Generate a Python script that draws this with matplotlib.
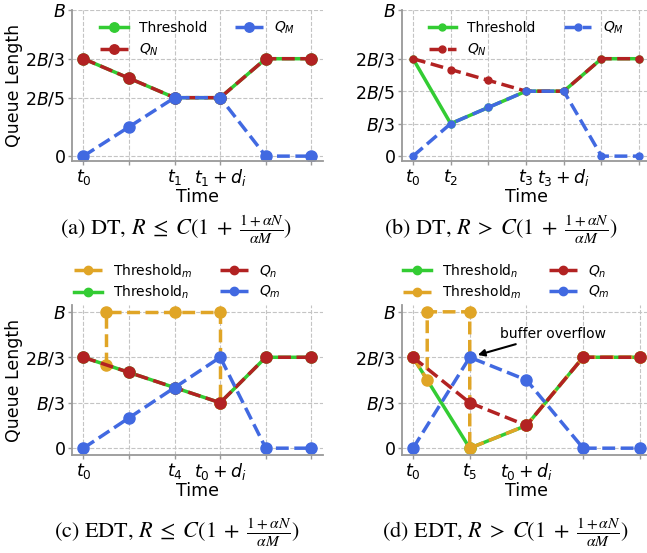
import matplotlib
matplotlib.use('Agg')
import matplotlib.pyplot as plt

# colours
GREEN = '#33cc33'
RED = '#b22222'
BLUE = '#4169e1'
ORANGE = '#e0a526'

plt.rcParams['font.family'] = 'DejaVu Sans'
plt.rcParams['mathtext.fontset'] = 'dejavusans'

# ---- panel (a): DT, R <= C(...)
a_x = [0, 1, 2, 3, 4, 5]
a_thr = [3, 2.4, 1.8, 1.8, 3, 3]
a_qn = [3, 2.4, 1.8, 1.8, 3, 3]
a_qm = [0, 0.9, 1.8, 1.8, 0, 0]
a_yticks = [0, 1.8, 3, 4.5]
a_ylabels = ['$0$', '$2B/5$', '$2B/3$', '$B$']
a_xlabels = ['$t_0$', '', '$t_1$', '$t_1+d_i$', '', '']

# ---- panel (b): DT, R > C(...)
b_x = [0, 1, 2, 3, 4, 5, 6]
b_thr = [3, 1, 1.5, 2, 2, 3, 3]
b_qn = [3, 2.667, 2.333, 2, 2, 3, 3]
b_qm = [0, 1, 1.5, 2, 2, 0, 0]
b_yticks = [0, 1, 2, 3, 4.5]
b_ylabels = ['$0$', '$B/3$', '$2B/5$', '$2B/3$', '$B$']
b_xlabels = ['$t_0$', '$t_2$', '', '$t_3$', '$t_3+d_i$', '', '']

# ---- panel (c): EDT, R <= C(...)
c_x = [0, 1, 2, 3, 4, 5]
c_thr_n = [2, 1.667, 1.333, 1, 2, 2]
c_qn = [2, 1.667, 1.333, 1, 2, 2]
c_qm = [0, 0.667, 1.333, 2, 0, 0]
c_thr_m_x = [0.5, 0.5, 2, 3, 3]
c_thr_m = [1.833, 3, 3, 3, 1]
c_yticks = [0, 1, 2, 3]
c_ylabels = ['$0$', '$B/3$', '$2B/3$', '$B$']
c_xlabels = ['$t_0$', '', '$t_4$', '$t_0+d_i$', '', '']

# ---- panel (d): EDT, R > C(...)
d_x = [0, 1, 2, 3, 4]
d_thr_n = [2, 0, 0.5, 2, 2]
d_qn = [2, 1, 0.5, 2, 2]
d_qm = [0, 2, 1.5, 0, 0]
d_thr_m_x = [0, 0.25, 0.25, 1, 1, 2, 3, 4]
d_thr_m = [2, 1.5, 3, 3, 0, 0.5, 2, 2]
d_yticks = [0, 1, 2, 3]
d_ylabels = ['$0$', '$B/3$', '$2B/3$', '$B$']
d_xlabels = ['$t_0$', '$t_5$', '$t_0+d_i$', '', '']

frac = r'\frac{1+\alpha N}{\alpha M}'
captions = [
    r'(a) DT, $R\;\leq\;C(1\;+\;' + frac + ')$',
    r'(b) DT, $R\;>\;C(1\;+\;' + frac + ')$',
    r'(c) EDT, $R\;\leq\;C(1\;+\;' + frac + ')$',
    r'(d) EDT, $R\;>\;C(1\;+\;' + frac + ')$',
]

W, H = 647, 553
fig = plt.figure(figsize=(W / 100, H / 100), dpi=100)


def make_ax(left, top, width, height):
    return fig.add_axes([left / W, 1 - (top + height) / H, width / W, height / H])


def style(ax, xs, xlabels, yticks, ylabels, ylabel=True):
    ax.set_xticks(xs)
    ax.set_xticklabels(xlabels, fontsize=12.5)
    ax.set_yticks(yticks)
    ax.set_yticklabels(ylabels, fontsize=12.5)
    ax.set_xlabel('Time', fontsize=12.5, labelpad=0)
    if ylabel:
        ax.set_ylabel('Queue Length', fontsize=12.5, labelpad=2)
    ax.grid(True, linestyle='--', color='#c4c4c4', linewidth=0.8)
    ax.set_axisbelow(True)
    for s in ['top', 'right']:
        ax.spines[s].set_visible(False)
    for s in ['left', 'bottom']:
        ax.spines[s].set_color('#999999')
        ax.spines[s].set_linewidth(1.3)
    ax.tick_params(colors='#999999', labelcolor='black', length=3, width=1)
    ax.tick_params(axis='x', pad=1)
    ax.tick_params(axis='y', pad=1.5)


lw = 2.5

# (a)
ax = make_ax(72, 10, 250.8, 151)
ax.plot(a_x, a_thr, '-', color=GREEN, lw=lw, marker='o', ms=8, label='Threshold')
ax.plot(a_x, a_qn, '--', color=RED, lw=lw, marker='o', ms=8, label='$Q_N$')
ax.plot(a_x, a_qm, '--', color=BLUE, lw=lw, marker='o', ms=8, label='$Q_M$')
style(ax, a_x, a_xlabels, a_yticks, a_ylabels)
ax.legend(ncol=2, loc='center', bbox_to_anchor=(0.5, 0.81), frameon=False,
          fontsize=10, markerscale=0.85)

# (b)
ax = make_ax(401.7, 10, 248.8, 151)
ax.plot(b_x, b_thr, '-', color=GREEN, lw=lw, marker='o', ms=5, label='Threshold')
ax.plot(b_x, b_qn, '--', color=RED, lw=lw, marker='o', ms=5, label='$Q_N$')
ax.plot(b_x, b_qm, '--', color=BLUE, lw=lw, marker='o', ms=5, label='$Q_M$')
style(ax, b_x, b_xlabels, b_yticks, b_ylabels, ylabel=False)
ax.legend(ncol=2, loc='center', bbox_to_anchor=(0.5, 0.81), frameon=False, fontsize=10)

# (c)
ax = make_ax(72, 305, 250.8, 150)
h_tn, = ax.plot(c_x, c_thr_n, '-', color=GREEN, lw=lw, marker='o', ms=8, label='Threshold$_n$')
h_tm, = ax.plot(c_thr_m_x, c_thr_m, '--', color=ORANGE, lw=lw, marker='o', ms=8, label='Threshold$_m$')
h_qn, = ax.plot(c_x, c_qn, '--', color=RED, lw=lw, marker='o', ms=8, label='$Q_n$')
h_qm, = ax.plot(c_x, c_qm, '--', color=BLUE, lw=lw, marker='o', ms=8, label='$Q_m$')
style(ax, c_x, c_xlabels, c_yticks, c_ylabels)
ax.legend(handles=[h_tm, h_tn, h_qn, h_qm], ncol=2, loc='center',
          bbox_to_anchor=(0.42, 1.155), frameon=False, fontsize=10,
          labelspacing=0.3, markerscale=0.75)

# (d)
ax = make_ax(401.7, 305, 249.5, 150)
h_tn, = ax.plot(d_x, d_thr_n, '-', color=GREEN, lw=lw, marker='o', ms=8, label='Threshold$_n$')
h_tm, = ax.plot(d_thr_m_x, d_thr_m, '--', color=ORANGE, lw=lw, marker='o', ms=8, label='Threshold$_m$')
h_qn, = ax.plot(d_x, d_qn, '--', color=RED, lw=lw, marker='o', ms=8, label='$Q_n$')
h_qm, = ax.plot(d_x, d_qm, '--', color=BLUE, lw=lw, marker='o', ms=8, label='$Q_m$')
style(ax, d_x, d_xlabels, d_yticks, d_ylabels, ylabel=False)
ax.legend(handles=[h_tn, h_tm, h_qn, h_qm], ncol=2, loc='center',
          bbox_to_anchor=(0.42, 1.155), frameon=False, fontsize=10,
          labelspacing=0.3, markerscale=0.75)
ax.annotate('buffer overflow', xy=(1, 2), xytext=(1.53, 2.52),
            ha='left', va='center', fontsize=10,
            arrowprops=dict(arrowstyle='-|>', color='black', lw=1.5, shrinkB=6))

# captions
cap_pos = [(176, 230), (501, 230), (177, 533), (506, 533)]
for (cx, cy), cap in zip(cap_pos, captions):
    fig.text(cx / W, 1 - cy / H, cap, ha='center', va='center', fontsize=16,
             family='STIXGeneral', math_fontfamily='stix')

fig.savefig('out.png', dpi=100)
